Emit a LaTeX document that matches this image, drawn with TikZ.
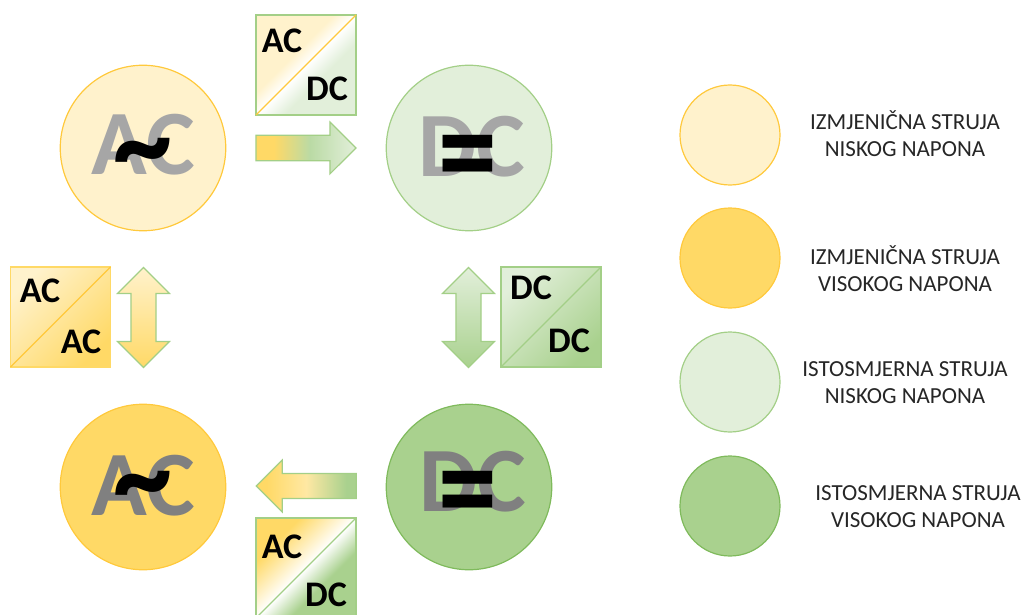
\documentclass[tikz,border=0pt]{standalone}
\usepackage{fontspec}
\usepackage{tikz}
\usetikzlibrary{positioning,shapes.arrows}
\setmainfont{Carlito}

\definecolor{acLowFill}{HTML}{FFF2CC}
\definecolor{acHighFill}{HTML}{FFD966}
\definecolor{dcLowFill}{HTML}{E2EFDA}
\definecolor{dcHighFill}{HTML}{A9D18E}
\definecolor{acLine}{HTML}{FFC93C}
\definecolor{dcLine}{HTML}{A3CF87}
\definecolor{dcDarkLine}{HTML}{7FBA5C}

\pgfdeclareverticalshading{fadeAcLow}{100bp}{color(0bp)=(white); color(50bp)=(white); color(58bp)=(acLowFill); color(100bp)=(acLowFill)}
\pgfdeclareverticalshading{fadeDcLow}{100bp}{color(0bp)=(white); color(50bp)=(white); color(60bp)=(dcLowFill); color(100bp)=(dcLowFill)}
\pgfdeclareverticalshading{fadeAcHigh}{100bp}{color(0bp)=(white); color(50bp)=(white); color(70bp)=(acHighFill); color(100bp)=(acHighFill)}
\pgfdeclareverticalshading{fadeDcHigh}{100bp}{color(0bp)=(white); color(50bp)=(white); color(62bp)=(dcHighFill); color(100bp)=(dcHighFill)}
\pgfdeclarehorizontalshading{flowRight}{100bp}{color(0bp)=(acHighFill); color(34bp)=(acHighFill); color(52bp)=(dcHighFill!80!white); color(75bp)=(dcLowFill); color(100bp)=(dcLowFill)}
\pgfdeclarehorizontalshading{flowLeft}{100bp}{color(0bp)=(acHighFill); color(30bp)=(acHighFill); color(50bp)=(acHighFill!60!white); color(70bp)=(dcHighFill); color(100bp)=(dcHighFill)}

\begin{document}
\begin{tikzpicture}[
    x=1pt, y=-1pt,
    node distance=326pt,
    state/.style={draw, circle, inner sep=0pt, minimum size=165.5pt, line width=1.2pt},
    legend/.style={draw, circle, inner sep=0pt, minimum size=100pt, line width=1.2pt},
    legendText/.style={align=center, font=\fontsize{23}{27}\selectfont, text=black!85},
    bigText/.style={font=\bfseries\fontsize{92}{92}\selectfont, inner sep=0pt},
    signText/.style={font=\bfseries\fontsize{118}{118}\selectfont, inner sep=0pt},
    tagText/.style={font=\bfseries\fontsize{36}{36}\selectfont, inner sep=0pt},
    tag/.style={draw, rectangle, inner sep=0pt, outer sep=0pt, minimum size=100pt, line width=1.2pt},
    flat/.style={single arrow, draw=dcLine, line width=1.2pt, inner sep=12pt, outer sep=0pt,
        minimum height=100pt, minimum width=52pt, single arrow head extend=13pt},
    updown/.style={double arrow, draw=dcLine, line width=1.2pt, inner sep=11.5pt, outer sep=0pt,
        minimum height=100pt, minimum width=52pt, double arrow head extend=13pt, shape border rotate=90}
    ]

    \useasboundingbox (0,0) rectangle (1023,615);

    % States
    \node (acLow) [state, draw=acLine, fill=acLowFill] at (143,148) {};
    \node (dcLow) [state, draw=dcLine, fill=dcLowFill, right of=acLow] {};
    \node (acHigh) [state, draw=acLine, fill=acHighFill] at (143,487) {};
    \node (dcHigh) [state, draw=dcDarkLine, fill=dcHighFill, right of=acHigh] {};

    \node (acLowName) [bigText, text=black!35] at (143,145) {AC};
    \node (dcLowName) [bigText, text=black!35] at (472,147) {DC};
    \node (acHighName) [bigText, text=black!50] at (143,486) {AC};
    \node (dcHighName) [bigText, text=black!50] at (473,482) {DC};
    \node (acLowSign) [signText] at (143,162) {\scalebox{1}[1.1]{\char`\~}};
    \node (dcLowSign) [signText] at (468,167) {\scalebox{1}[1.2]{=}};
    \node (acHighSign) [signText] at (143,495.5) {\scalebox{1}[1.1]{\char`\~}};
    \node (dcHighSign) [signText] at (468,502.5) {\scalebox{1}[1.2]{=}};

    % Converter tags
    \node (tagRise) [tag, draw=dcLine, anchor=north west] at (256,15) {};
    \node (tagLeft) [tag, draw=acHighFill, top color=acLowFill, bottom color=acHighFill, shading angle=45, anchor=north west] at (10.5,267) {};
    \node (tagRight) [tag, draw=dcLine, top color=dcLowFill, bottom color=dcHighFill, shading angle=45, anchor=north west] at (501,267) {};
    \node (tagFall) [tag, draw=dcLine, anchor=north west] at (256,518) {};

    \shade[shading=fadeAcLow, shading angle=45] (tagRise.north west) -- (tagRise.north east) -- (tagRise.south west) -- cycle;
    \shade[shading=fadeDcLow, shading angle=225] (tagRise.south east) -- (tagRise.north east) -- (tagRise.south west) -- cycle;
    \shade[shading=fadeAcHigh, shading angle=45] (tagFall.north west) -- (tagFall.north east) -- (tagFall.south west) -- cycle;
    \shade[shading=fadeDcHigh, shading angle=225] (tagFall.south east) -- (tagFall.north east) -- (tagFall.south west) -- cycle;
    \draw[dcLine, line width=1.2pt] (tagRise.north west) rectangle (tagRise.south east);
    \draw[dcLine, line width=1.2pt] (tagFall.north west) rectangle (tagFall.south east);

    \draw[acLine, line width=1.2pt] (tagRise.south west) -- (tagRise.north east);
    \draw[acLine, line width=1.2pt] (tagLeft.south west) -- (tagLeft.north east);
    \draw[dcLine, line width=1.2pt] (tagRight.south west) -- (tagRight.north east);
    \draw[dcLine, line width=1.2pt] (tagFall.south west) -- (tagFall.north east);

    \node (riseA) [tagText] at (282,41) {AC};
    \node (riseB) [tagText] at (327,89) {DC};
    \node (leftA) [tagText] at (40,291) {AC};
    \node (leftB) [tagText] at (81,342) {AC};
    \node (rightA) [tagText] at (531,288) {DC};
    \node (rightB) [tagText] at (569,341) {DC};
    \node (fallA) [tagText] at (282,547) {AC};
    \node (fallB) [tagText] at (326,595) {DC};

    % Block arrows
    \node (arrowRise) [flat, shading=flowRight] at (299.5,148) {};
    \node (arrowFall) [flat, shading=flowLeft, inner sep=11pt, single arrow head extend=12.5pt, shape border rotate=180] at (312.5,486) {};
    \node (arrowLeft) [updown, top color=acLowFill, bottom color=acHighFill] at (143.5,317.5) {};
    \node (arrowRight) [updown, top color=dcLowFill, bottom color=dcHighFill] at (468.5,317.5) {};

    % Legend
    \node (keyAcLow) [legend, draw=acLine, fill=acLowFill] at (730,135) {};
    \node (keyAcHigh) [legend, draw=acLine, fill=acHighFill] at (730,258) {};
    \node (keyDcLow) [legend, draw=dcLine, fill=dcLowFill] at (730,382) {};
    \node (keyDcHigh) [legend, draw=dcDarkLine, fill=dcHighFill] at (730,506) {};

    \node (textAcLow) [legendText] at (905,133.5) {IZMJENIČNA STRUJA\\NISKOG NAPONA};
    \node (textAcHigh) [legendText] at (905,269) {IZMJENIČNA STRUJA\\VISOKOG NAPONA};
    \node (textDcLow) [legendText] at (905,383) {ISTOSMJERNA STRUJA\\NISKOG NAPONA};
    \node (textDcHigh) [legendText] at (918,507) {ISTOSMJERNA STRUJA\\VISOKOG NAPONA};
\end{tikzpicture}
\end{document}
